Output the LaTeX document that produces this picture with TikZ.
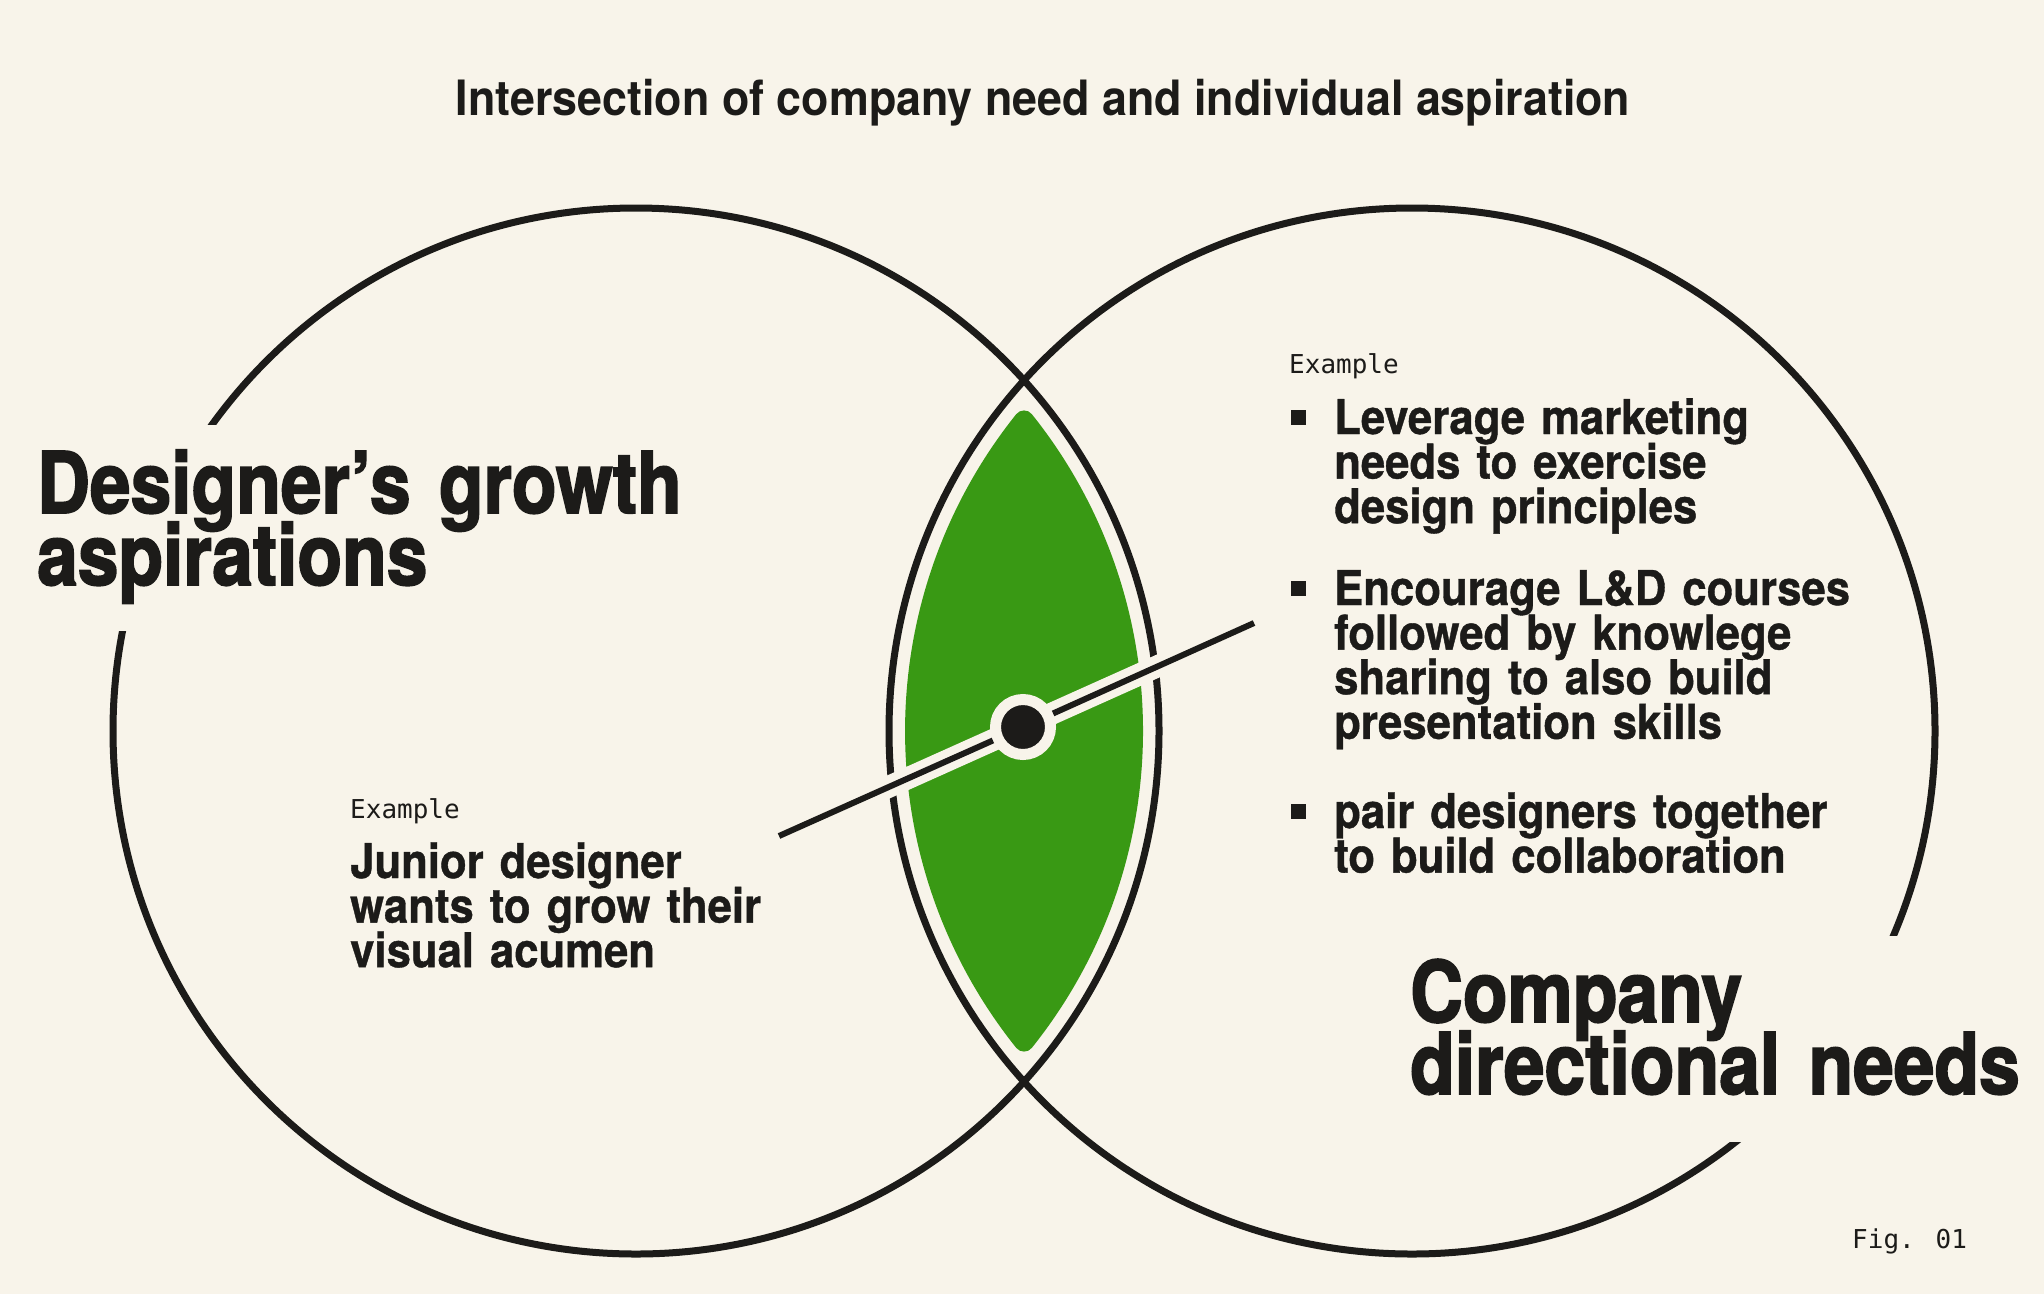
\documentclass[tikz,border=0pt]{standalone}
\usepackage{fontspec}
\setmainfont{TeX Gyre Heros}
\newfontfamily\headfont{TeX Gyre Heros}[FakeStretch=0.86, FakeBold=2]
\newfontfamily\bodyfont{TeX Gyre Heros}[FakeStretch=0.91, FakeBold=0.8]
\newfontfamily\titlefont{TeX Gyre Heros}[FakeStretch=0.92]
\newfontfamily\codefont{DejaVu Sans Mono}
\newcommand\tightlines{\lineskiplimit-1000pt\relax}

\definecolor{paper}{RGB}{248,244,234}
\definecolor{ink}{RGB}{28,27,25}
\definecolor{leaf}{RGB}{57,153,20}

\tikzset{
  ring/.style={draw=ink, line width=7pt},
  halo/.style={draw=paper, line width=22pt},
  wire/.style={draw=ink, line width=6pt},
  hub/.style={circle, fill=ink, draw=paper, line width=11pt, minimum size=55pt, inner sep=0pt},
  bulletsq/.style={fill=ink, minimum size=15pt, inner sep=0pt},
  headtext/.style={font=\headfont\bfseries\fontsize{85}{72}\selectfont\tightlines, text=ink, inner sep=0pt, anchor=base west, text width=700pt, align=left},
  bodytext/.style={font=\bodyfont\bfseries\fontsize{48}{44.6}\selectfont\tightlines, text=ink, inner sep=0pt, anchor=base west, text width=560pt, align=left},
  codetext/.style={font=\codefont\fontsize{26}{26}\selectfont, text=ink, inner sep=0pt, anchor=base west},
}

\begin{document}
\begin{tikzpicture}[x=1pt, y=-1pt]
    \fill[paper] (0,0) rectangle (2044,1294);
    \useasboundingbox (0,0) rectangle (2044,1294);

    \coordinate (lc) at (636,731);
    \coordinate (rc) at (1412,731);
    \pgfmathsetmacro\lensang{acos(388/497)}

    % green overlap
    \filldraw[fill=leaf, draw=leaf, line width=20pt, line join=round]
      (rc) ++(180+\lensang:497) arc (180+\lensang:180-\lensang:497)
      arc (\lensang:-\lensang:497) -- cycle;

    \draw[ring] (lc) circle [radius=523];
    \draw[ring] (rc) circle [radius=523];

    % breaks in the circles behind the headings
    \fill[paper] (95,425) rectangle (240,631);
    \fill[paper] (1710,936) rectangle (1915,1142);

    \coordinate (pinL) at (779,836);
    \coordinate (pinR) at (1254,623);
    \draw[halo] (pinL) -- (pinR);
    \node[hub] (hub) at (1023,727) {};
    \draw[wire] (pinL) -- (hub) -- (pinR);

    \node[font=\titlefont\bfseries\fontsize{48.7}{48.7}\selectfont, text=ink, inner sep=0pt, anchor=base] (title) at (1043,115)
      {Intersection of company need and individual aspiration};

    \node[headtext] (growth) at (37,513) {Designer’s growth\\aspirations};
    \node[headtext] (company) at (1410,1022) {Company\\directional needs};

    \node[codetext] (exleft) at (350,818) {Example};
    \node[bodytext] (junior) at (350,878) {Junior designer\\wants to grow their\\visual acumen};

    \node[codetext] (exright) at (1289,373) {Example};
    \foreach \y in {417,588,811}
      \node[bulletsq] (sq\y) at (1298.5,\y) {};
    \node[bodytext] (itemA) at (1334,434) {Leverage marketing\\needs to exercise\\design principles};
    \node[bodytext] (itemB) at (1334,605) {Encourage L\&D courses\\followed by knowlege\\sharing to also build\\presentation skills};
    \node[bodytext] (itemC) at (1334,828) {pair designers together\\to build collaboration};

    \node[codetext] (fig) at (1852,1248) {Fig. 01};
\end{tikzpicture}
\end{document}
